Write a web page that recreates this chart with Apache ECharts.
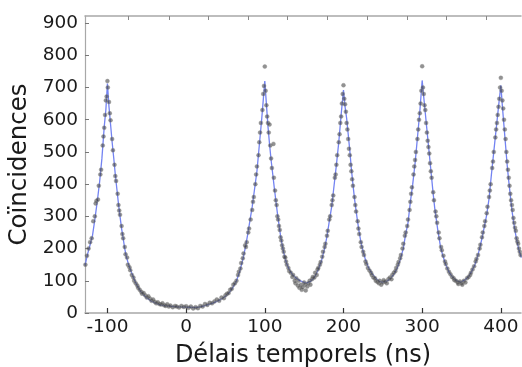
<!DOCTYPE html>
<html>
<head>
<meta charset="utf-8">
<script src="https://cdn.jsdelivr.net/npm/echarts@6/dist/echarts.min.js"></script>
<style>
  html, body { margin: 0; padding: 0; background: #fff; }
  #chart { width: 522px; height: 367px; }
</style>
</head>
<body>
<div id="chart"></div>
<script>
// tick positions
const xTicks = [-100, 0, 100, 200, 300, 400]
const yTicks = [0, 100, 200, 300, 400, 500, 600, 700, 800, 900]
const topTicks = [-73, -22, 28, 79, 129, 179, 230, 281, 331, 382]

// fitted curve (ns, counts)
const fitLine = [
  [-128.5, 148], [-125, 185], [-122, 212], [-119, 240], [-116, 290], [-113, 345], [-110, 405],
  [-107, 480], [-104, 580], [-102, 630], [-100, 712], [-98, 640], [-96, 585], [-94, 530],
  [-92, 482], [-90, 430], [-88, 385], [-86, 340], [-84, 300], [-82, 262], [-80, 232],
  [-78, 200], [-76, 176], [-74, 158], [-72, 143], [-70, 130], [-66, 105], [-62, 84],
  [-58, 68], [-54, 56], [-50, 47], [-45, 38], [-40, 32], [-35, 27], [-30, 24], [-20, 21],
  [-10, 19], [0, 18], [10, 17], [18, 19], [25, 24], [32, 29], [40, 37], [46, 45], [52, 56],
  [56, 67], [60, 82], [64, 100], [68, 128], [72, 165], [75, 200], [78, 240], [81, 285],
  [84, 330], [87, 385], [90, 440], [93, 520], [96, 600], [98, 660], [100, 720],
  [102, 650], [104, 580], [106, 525], [108, 475], [110, 433], [112, 390], [114, 350],
  [116, 310], [118, 275], [120, 240], [122, 212], [124, 188], [126, 168], [128, 152],
  [131, 135], [135, 120], [139, 110], [144, 101], [149, 96], [153, 93], [158, 98],
  [163, 110], [168, 135], [172, 162], [176, 200], [179, 238], [182, 285], [185, 330],
  [188, 395], [191, 460], [194, 530], [197, 615], [200, 692], [202, 640], [204, 605],
  [206, 555], [208, 505], [210, 448], [212, 400], [214, 355], [216, 318], [218, 282],
  [220, 250], [222, 222], [225, 190], [228, 165], [232, 140], [236, 124], [241, 108],
  [246, 97], [251, 96], [256, 100], [260, 108], [264, 120], [268, 138], [272, 165],
  [276, 200], [279, 245], [282, 280], [285, 345], [288, 400], [291, 465], [294, 545],
  [297, 625], [300, 722], [302, 670], [304, 620], [306, 570], [308, 520], [310, 470],
  [312, 420], [314, 370], [316, 325], [318, 290], [320, 255], [323, 210], [326, 180],
  [330, 150], [335, 123], [340, 108], [345, 99], [349, 96], [354, 102], [359, 113],
  [363, 130], [367, 150], [370, 172], [373, 200], [376, 232], [379, 268], [382, 305],
  [385, 355], [388, 430], [391, 500], [394, 570], [397, 640], [400, 707], [402, 640],
  [404, 580], [406, 520], [408, 460], [410, 410], [412, 365], [414, 320], [416, 285],
  [418, 255], [420, 228], [423, 195], [426, 172]
]

// measured coincidences, split by region
const dotsPeakA = [
  [-128, 150], [-126, 178], [-124, 200], [-122, 220], [-120, 232], [-118, 285], [-116, 300],
  [-115, 340], [-114, 348], [-112, 352], [-111, 395], [-109, 430], [-108, 445], [-106, 520],
  [-105, 548], [-104, 575], [-103, 615], [-102, 660], [-101, 672], [-100, 720], [-99.5, 700],
  [-98, 655], [-97, 620], [-96, 598], [-94, 540], [-93, 505], [-91, 460], [-90, 425],
  [-89, 410], [-87, 370], [-86, 335], [-85, 318], [-84, 305], [-82, 270], [-81, 245],
  [-80, 232], [-78, 205], [-77, 182], [-75, 172], [-74, 150], [-72, 142], [-71, 133],
  [-69, 118], [-67, 110], [-66, 100], [-64, 92], [-62, 85], [-61, 78], [-59, 72], [-57, 66],
  [-56, 60], [-54, 62], [-52, 55], [-50, 48], [-48, 52], [-46, 45], [-44, 38], [-42, 42],
  [-40, 35], [-38, 30], [-36, 33], [-34, 28], [-32, 26], [-30, 30], [-28, 24], [-26, 22],
  [-24, 27], [-22, 20], [-20, 23], [-17, 18], [-14, 22], [-12, 20], [-9, 17], [-6, 22],
  [-3, 19], [0, 21]
]
const dotsPeakB = [
  [3, 16], [6, 20], [9, 14], [12, 18], [15, 15], [18, 22], [21, 20], [24, 28], [27, 25],
  [30, 32], [33, 30], [36, 36], [39, 42], [42, 38], [45, 48], [48, 46], [50, 55], [52, 60],
  [54, 62], [56, 72], [58, 75], [60, 88], [62, 92], [64, 100], [66, 118], [67, 128],
  [69, 138], [70, 155], [72, 170], [73, 185], [75, 210], [76, 205], [77, 220], [79, 250],
  [80, 262], [82, 290], [84, 320], [85, 345], [86, 360], [88, 400], [89, 430], [90, 455],
  [92, 490], [93, 530], [94, 560], [95, 590], [97, 630], [98, 680], [99, 705], [100, 765],
  [101, 690], [102, 645], [103, 610], [104, 590], [105, 560], [106, 585], [107, 520],
  [108, 480], [109, 450], [111, 525], [111.5, 420], [113, 380], [114, 350], [115, 335],
  [116, 300], [117, 290], [118, 270], [119, 258], [120, 235], [121, 225], [122, 210],
  [123, 200], [124, 190], [125, 175], [126, 172], [127, 160], [128, 150], [130, 140],
  [131, 130], [133, 125], [135, 112], [136, 118], [138, 100], [139, 92], [140, 108],
  [142, 85], [143, 100], [144, 78], [146, 88], [147, 72], [148, 80], [150, 95], [151, 88],
  [152, 70], [154, 82], [155, 92], [157, 100], [158, 88]
]
const dotsPeakC = [
  [160, 105], [161, 112], [163, 110], [164, 125], [166, 118], [167, 135], [168, 140],
  [170, 150], [171, 158], [173, 175], [174, 190], [176, 205], [177, 215], [179, 240],
  [180, 255], [182, 290], [183, 300], [185, 335], [186, 350], [187, 365], [189, 420],
  [190, 430], [191, 460], [192, 490], [194, 530], [195, 555], [196, 590], [197, 610],
  [198, 650], [199, 680], [200, 707], [201, 665], [202, 648], [203, 625], [204, 590],
  [205, 570], [206, 540], [207, 510], [208, 490], [209, 460], [210, 440], [211, 415],
  [212, 395], [214, 360], [215, 335], [216, 315], [218, 285], [219, 262], [220, 245],
  [222, 220], [223, 205], [225, 190], [226, 180], [228, 160], [229, 152], [231, 140],
  [233, 132], [235, 125], [236, 118], [238, 110], [240, 108], [241, 100], [243, 97],
  [245, 92], [246, 100], [248, 88], [250, 95], [251, 102], [253, 98], [255, 92], [257, 105]
]
const dotsPeakD = [
  [259, 110], [261, 105], [262, 118], [264, 125], [266, 130], [267, 140], [269, 150],
  [270, 158], [272, 170], [273, 180], [275, 200], [276, 215], [278, 240], [279, 250],
  [281, 270], [282, 290], [284, 320], [285, 345], [286, 370], [287, 390], [289, 430],
  [290, 455], [291, 475], [292, 500], [294, 540], [295, 570], [296, 600], [297, 620],
  [298, 650], [299, 690], [300, 766], [301, 700], [302, 680], [303, 645], [304, 630],
  [305, 590], [306, 560], [307, 535], [308, 515], [309, 495], [310, 465], [311, 440],
  [312, 420], [314, 375], [315, 350], [317, 315], [318, 300], [319, 280], [321, 250],
  [322, 232], [324, 205], [325, 195], [327, 178], [329, 160], [330, 152], [332, 138],
  [334, 128], [336, 120], [338, 112], [340, 108], [341, 102], [343, 100], [345, 95],
  [346, 90], [348, 98], [350, 92], [351, 88], [353, 100], [355, 95], [357, 108]
]
const dotsPeakE = [
  [359, 112], [361, 118], [362, 125], [364, 135], [366, 145], [368, 160], [369, 168],
  [371, 180], [373, 200], [374, 212], [376, 235], [377, 250], [379, 270], [380, 285],
  [382, 310], [383, 330], [385, 360], [386, 380], [387, 400], [389, 450], [390, 470],
  [391, 500], [393, 545], [394, 570], [395, 590], [396, 615], [397, 640], [398, 665],
  [399, 700], [400, 730], [401, 690], [402, 660], [403, 635], [404, 600], [405, 570],
  [406, 540], [407, 500], [408, 470], [409, 445], [410, 420], [411, 395], [412, 370],
  [413, 350], [414, 335], [415, 320], [416, 295], [417, 280], [418, 265], [419, 255],
  [420, 232], [421, 222], [422, 215], [423, 200], [424, 190], [425, 180]
]

const dots = [].concat(dotsPeakA, dotsPeakB, dotsPeakC, dotsPeakD, dotsPeakE)

const font = 'DejaVu Sans'
const myChart = echarts.init(document.getElementById('chart'), null, { renderer: 'canvas' })
const option = {
  animation: false,
  backgroundColor: '#fff',
  grid: { left: 85, right: 1, top: 16, bottom: 54, containLabel: false, outerBoundsMode: 'none' },
  xAxis: [
    {
      type: 'value',
      min: -128.5,
      max: 425.6,
      name: 'Délais temporels (ns)',
      nameLocation: 'middle',
      nameGap: 31,
      nameTextStyle: { fontFamily: font, fontSize: 24, color: '#1a1a1a' },
      axisLine: { show: true, onZero: false, lineStyle: { color: '#a8a8a8', width: 1.5 } },
      axisTick: { show: true, inside: true, length: 5, customValues: xTicks, lineStyle: { color: '#333', width: 1.2 } },
      axisLabel: { customValues: xTicks, margin: 5, fontFamily: font, fontSize: 18.5, color: '#1a1a1a' },
      splitLine: { show: false }
    },
    {
      type: 'value',
      position: 'top',
      min: -128.5,
      max: 425.6,
      axisLine: { show: true, onZero: false, lineStyle: { color: '#a8a8a8', width: 1.5 } },
      axisTick: { show: true, inside: true, length: 4, customValues: topTicks, lineStyle: { color: '#888' } },
      axisLabel: { show: false },
      splitLine: { show: false }
    }
  ],
  yAxis: {
    type: 'value',
    min: 0,
    max: 922,
    name: 'Coïncidences',
    nameLocation: 'middle',
    nameRotate: 90,
    nameGap: 46,
    nameTextStyle: { fontFamily: font, fontSize: 24.5, color: '#1a1a1a' },
    axisLine: { show: true, onZero: false, lineStyle: { color: '#a8a8a8', width: 1.2 } },
    axisTick: { show: true, inside: true, length: 4, customValues: yTicks, lineStyle: { color: '#777' } },
    axisLabel: { customValues: yTicks, margin: 7, padding: [5, 0, 0, 0], fontFamily: font, fontSize: 18.5, color: '#1a1a1a' },
    splitLine: { show: false }
  },
  series: [
    {
      type: 'line',
      data: fitLine,
      showSymbol: false,
      smooth: false,
      lineStyle: { color: '#7383f2', width: 1.3 },
      z: 2
    },
    {
      type: 'scatter',
      data: dots,
      symbol: 'circle',
      symbolSize: 4,
      itemStyle: { color: 'rgba(60,60,60,0.7)', borderColor: 'rgba(140,140,140,0.6)', borderWidth: 0.8 },
      z: 3
    }
  ]
}
myChart.setOption(option)
</script>
</body>
</html>
